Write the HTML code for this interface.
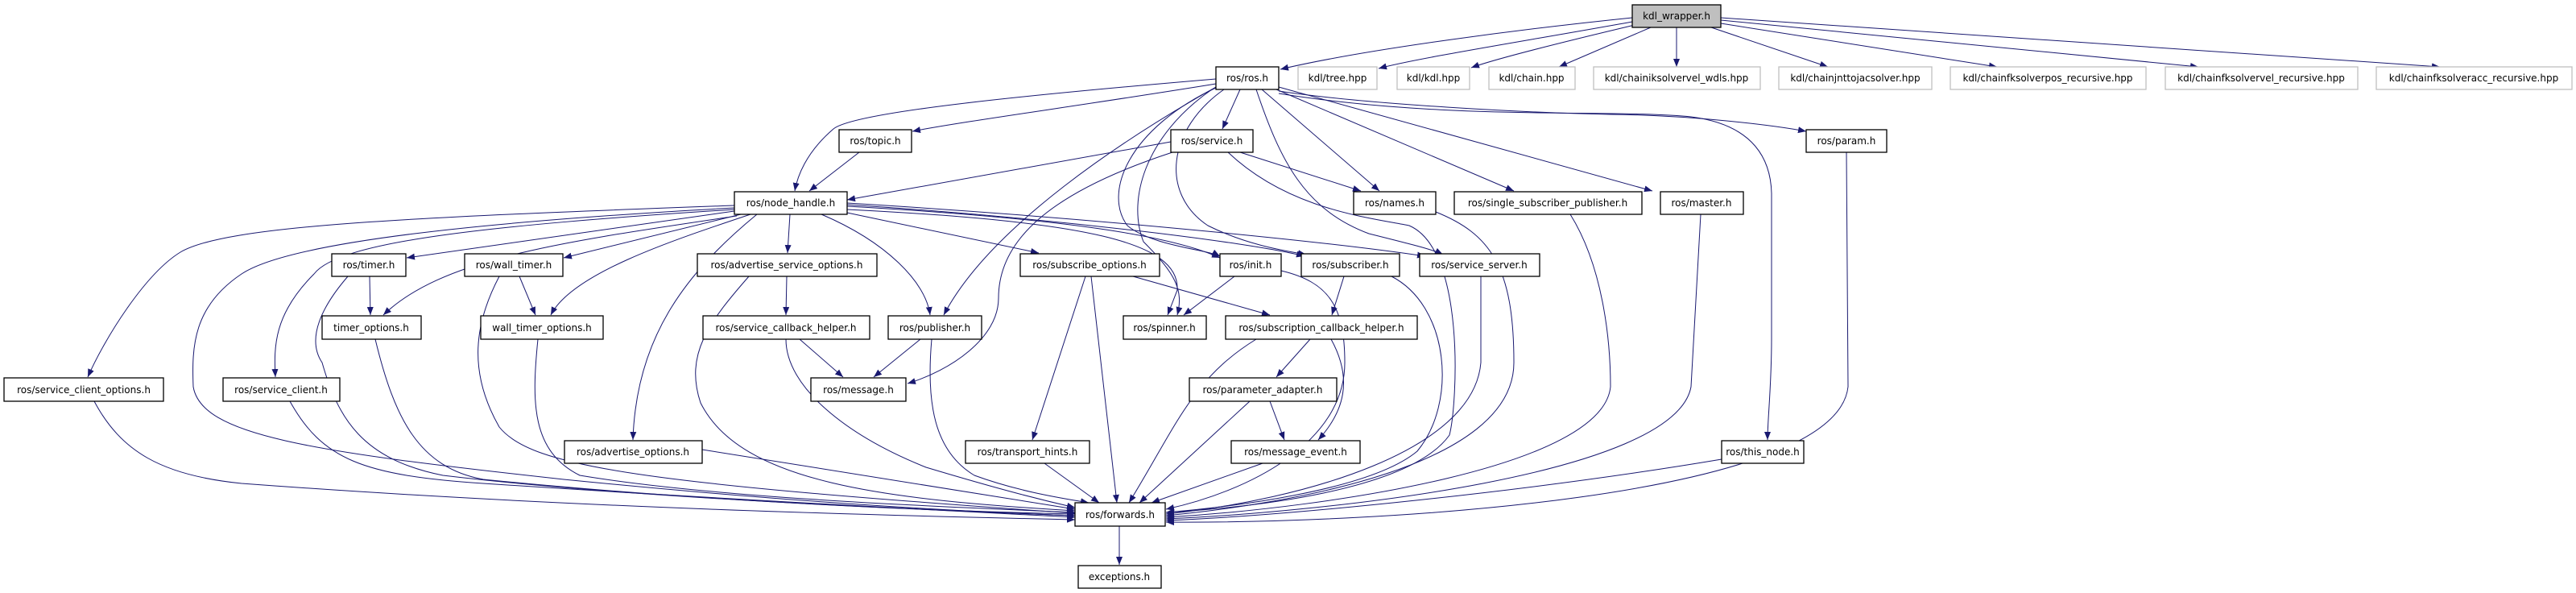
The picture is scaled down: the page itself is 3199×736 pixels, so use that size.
<!DOCTYPE html>
<html><head><meta charset="utf-8"><style>
html,body{margin:0;padding:0;background:#fff;width:3199px;height:736px;overflow:hidden}
svg{display:block}
text{font-family:"DejaVu Sans","Liberation Sans",sans-serif;font-size:12px;fill:#000}
.n{fill:#fff;stroke:#000;stroke-width:1.3}
.g{fill:#fff;stroke:#bfbfbf;stroke-width:1.3}
.e{fill:none;stroke:#191970;stroke-width:1}
</style></head><body>
<svg width="3199" height="736" viewBox="0 0 3199 736" xmlns="http://www.w3.org/2000/svg">
<defs><marker id="a" markerUnits="userSpaceOnUse" markerWidth="12" markerHeight="9" refX="10" refY="4" orient="auto"><path d="M0,0 L10,4 L0,8 z" fill="#191970"/></marker></defs>
<g class="e" marker-end="url(#a)">
<path d="M2027,22 C1900,35 1700,60 1590,86"/>
<path d="M2027,27 C1900,50 1760,72 1712,85"/>
<path d="M2030,31 C1950,50 1860,72 1827,84"/>
<path d="M2050,34 L1936,83"/>
<path d="M2082,34 L2082,83"/>
<path d="M2125,34 L2270,83"/>
<path d="M2137,29 L2480,83"/>
<path d="M2137,25 L2730,83"/>
<path d="M2137,22 L3030,83"/>
<path d="M1510,98 C1250,120 1060,140 1035,160 C1000,190 990,220 987,237"/>
<path d="M1510,104 C1350,130 1200,150 1133,163"/>
<path d="M1540,111 L1518,160"/>
<path d="M1567,111 L1713,237"/>
<path d="M1585,111 L1880,237"/>
<path d="M1588,108 L2052,237"/>
<path d="M1588,113 C1700,130 1900,140 2000,142 C2100,143 2200,155 2243,163"/>
<path d="M1588,116 C1800,150 2000,135 2100,145 C2180,155 2199,200 2200,240 L2200,420 C2200,480 2195,520 2195,546"/>
<path d="M1512,108 C1400,160 1370,240 1400,280 C1430,305 1500,310 1515,318"/>
<path d="M1520,111 C1450,160 1440,240 1500,280 C1550,305 1600,312 1622,316"/>
<path d="M1560,111 C1590,200 1620,260 1700,290 C1760,305 1780,310 1792,316"/>
<path d="M1510,108 C1400,170 1230,280 1172,391"/>
<path d="M1505,111 C1420,170 1400,250 1420,300 C1460,340 1470,360 1462,391"/>
<path d="M1454,176 L1052,248"/>
<path d="M1540,189 L1690,237"/>
<path d="M1456,189 C1300,240 1240,300 1240,370 C1240,420 1180,460 1127,476"/>
<path d="M1525,189 C1600,260 1700,270 1750,280 C1820,310 1810,500 1800,540 C1750,610 1550,630 1448,636"/>
<path d="M1067,189 L1005,237"/>
<path d="M912,262 L505,320"/>
<path d="M920,266 L700,320"/>
<path d="M981,266 L978,314"/>
<path d="M1052,264 L1290,314"/>
<path d="M1052,256 C1300,270 1450,290 1515,320"/>
<path d="M1052,254 C1300,270 1550,300 1620,318"/>
<path d="M1052,252 C1350,270 1650,300 1770,318"/>
<path d="M1020,266 C1100,300 1150,350 1155,391"/>
<path d="M1052,260 C1350,275 1465,300 1462,360 L1450,391"/>
<path d="M915,268 C700,300 550,320 476,391"/>
<path d="M932,266 C830,300 710,340 684,391"/>
<path d="M912,255 C500,270 280,280 224,313 C180,340 130,420 109,468"/>
<path d="M912,260 C600,280 420,300 390,340 C340,390 340,430 342,468"/>
<path d="M912,258 C600,275 360,300 300,340 C240,380 238,430 240,480 C250,540 380,560 700,595 C1000,625 1200,635 1335,640"/>
<path d="M940,266 C850,340 790,420 786,546"/>
<path d="M117,498 C150,560 200,590 300,600 C700,630 1100,640 1335,645"/>
<path d="M360,498 C400,570 450,590 600,600 C900,620 1200,635 1335,642"/>
<path d="M432,343 C400,380 380,420 400,450 C420,520 450,570 550,590 C800,620 1200,635 1335,640"/>
<path d="M466,421 C490,520 520,580 600,595 C900,625 1200,635 1335,638"/>
<path d="M620,343 C590,400 580,460 620,530 C660,580 800,600 1335,637"/>
<path d="M668,421 C660,500 660,560 720,590 C900,620 1200,630 1335,636"/>
<path d="M930,343 C880,400 850,440 870,500 C920,600 1100,620 1335,634"/>
<path d="M872,558 L1335,632"/>
<path d="M976,421 C976,480 1050,540 1150,580 C1250,610 1300,622 1335,630"/>
<path d="M1157,421 C1150,500 1160,560 1210,590 C1270,612 1330,620 1352,624"/>
<path d="M1297,575 L1365,624"/>
<path d="M1355,343 L1387,624"/>
<path d="M1560,421 C1480,470 1460,530 1402,624"/>
<path d="M1552,498 L1415,624"/>
<path d="M1568,575 L1430,624"/>
<path d="M1591,336 C1650,350 1670,380 1670,450 C1670,550 1550,610 1448,632"/>
<path d="M1728,343 C1800,380 1810,500 1760,560 C1700,610 1520,630 1448,636"/>
<path d="M1839,343 L1839,450 C1830,560 1620,620 1448,638"/>
<path d="M1783,263 C1850,290 1880,330 1880,450 C1880,580 1600,625 1448,640"/>
<path d="M1950,266 C1990,330 2000,420 2000,480 C1990,580 1650,630 1448,642"/>
<path d="M2112,266 L2100,480 C2080,590 1650,635 1448,644"/>
<path d="M2138,570 C1900,610 1600,640 1448,646"/>
<path d="M2293,189 L2295,480 C2280,620 1700,650 1448,648"/>
<path d="M459,343 L460,391"/>
<path d="M645,343 L665,391"/>
<path d="M977,343 L976,391"/>
<path d="M993,421 L1047,468"/>
<path d="M1143,421 L1085,468"/>
<path d="M1348,343 L1282,546"/>
<path d="M1407,343 L1577,391"/>
<path d="M1533,343 L1470,391"/>
<path d="M1669,343 L1654,391"/>
<path d="M1627,421 L1585,468"/>
<path d="M1653,421 C1680,470 1670,510 1637,546"/>
<path d="M1577,498 L1595,546"/>
<path d="M1390,653 L1390,701"/>
</g>
<g text-anchor="middle">
<rect x="2027" y="6" width="110" height="28" fill="#bfbfbf" stroke="#000" stroke-width="1.3"/><text x="2082" y="24">kdl_wrapper.h</text>
<rect class="n" x="1510" y="83" width="78" height="28"/><text x="1549" y="101">ros/ros.h</text>
<rect class="g" x="1612" y="83" width="98" height="28"/><text x="1661" y="101">kdl/tree.hpp</text>
<rect class="g" x="1735" y="83" width="90" height="28"/><text x="1780" y="101">kdl/kdl.hpp</text>
<rect class="g" x="1849" y="83" width="107" height="28"/><text x="1902" y="101">kdl/chain.hpp</text>
<rect class="g" x="1979" y="83" width="207" height="28"/><text x="2082" y="101">kdl/chainiksolvervel_wdls.hpp</text>
<rect class="g" x="2209" y="83" width="190" height="28"/><text x="2304" y="101">kdl/chainjnttojacsolver.hpp</text>
<rect class="g" x="2422" y="83" width="243" height="28"/><text x="2543" y="101">kdl/chainfksolverpos_recursive.hpp</text>
<rect class="g" x="2689" y="83" width="239" height="28"/><text x="2808" y="101">kdl/chainfksolvervel_recursive.hpp</text>
<rect class="g" x="2951" y="83" width="243" height="28"/><text x="3072" y="101">kdl/chainfksolveracc_recursive.hpp</text>
<rect class="n" x="1042" y="161" width="90" height="28"/><text x="1087" y="179">ros/topic.h</text>
<rect class="n" x="1454" y="161" width="102" height="28"/><text x="1505" y="179">ros/service.h</text>
<rect class="n" x="2243" y="161" width="100" height="28"/><text x="2293" y="179">ros/param.h</text>
<rect class="n" x="912" y="238" width="140" height="28"/><text x="982" y="256">ros/node_handle.h</text>
<rect class="n" x="1681" y="238" width="102" height="28"/><text x="1732" y="256">ros/names.h</text>
<rect class="n" x="1806" y="238" width="233" height="28"/><text x="1922" y="256">ros/single_subscriber_publisher.h</text>
<rect class="n" x="2062" y="238" width="103" height="28"/><text x="2113" y="256">ros/master.h</text>
<rect class="n" x="412" y="315" width="92" height="28"/><text x="458" y="333">ros/timer.h</text>
<rect class="n" x="577" y="315" width="122" height="28"/><text x="638" y="333">ros/wall_timer.h</text>
<rect class="n" x="866" y="315" width="223" height="28"/><text x="977" y="333">ros/advertise_service_options.h</text>
<rect class="n" x="1267" y="315" width="173" height="28"/><text x="1353" y="333">ros/subscribe_options.h</text>
<rect class="n" x="1515" y="315" width="76" height="28"/><text x="1553" y="333">ros/init.h</text>
<rect class="n" x="1616" y="315" width="122" height="28"/><text x="1677" y="333">ros/subscriber.h</text>
<rect class="n" x="1763" y="315" width="149" height="28"/><text x="1837" y="333">ros/service_server.h</text>
<rect class="n" x="400" y="392" width="123" height="29"/><text x="461" y="411">timer_options.h</text>
<rect class="n" x="597" y="392" width="152" height="29"/><text x="673" y="411">wall_timer_options.h</text>
<rect class="n" x="873" y="392" width="207" height="29"/><text x="976" y="411">ros/service_callback_helper.h</text>
<rect class="n" x="1103" y="392" width="116" height="29"/><text x="1161" y="411">ros/publisher.h</text>
<rect class="n" x="1395" y="392" width="103" height="29"/><text x="1446" y="411">ros/spinner.h</text>
<rect class="n" x="1522" y="392" width="238" height="29"/><text x="1641" y="411">ros/subscription_callback_helper.h</text>
<rect class="n" x="5" y="469" width="198" height="29"/><text x="104" y="488">ros/service_client_options.h</text>
<rect class="n" x="277" y="469" width="145" height="29"/><text x="349" y="488">ros/service_client.h</text>
<rect class="n" x="1007" y="469" width="118" height="29"/><text x="1066" y="488">ros/message.h</text>
<rect class="n" x="1477" y="469" width="183" height="29"/><text x="1568" y="488">ros/parameter_adapter.h</text>
<rect class="n" x="701" y="547" width="171" height="28"/><text x="786" y="565">ros/advertise_options.h</text>
<rect class="n" x="1199" y="547" width="154" height="28"/><text x="1276" y="565">ros/transport_hints.h</text>
<rect class="n" x="1529" y="547" width="160" height="28"/><text x="1609" y="565">ros/message_event.h</text>
<rect class="n" x="2138" y="547" width="102" height="28"/><text x="2189" y="565">ros/this_node.h</text>
<rect class="n" x="1335" y="624" width="112" height="29"/><text x="1391" y="643">ros/forwards.h</text>
<rect class="n" x="1339" y="702" width="103" height="28"/><text x="1390" y="720">exceptions.h</text>
</g>
</svg>
</body></html>
